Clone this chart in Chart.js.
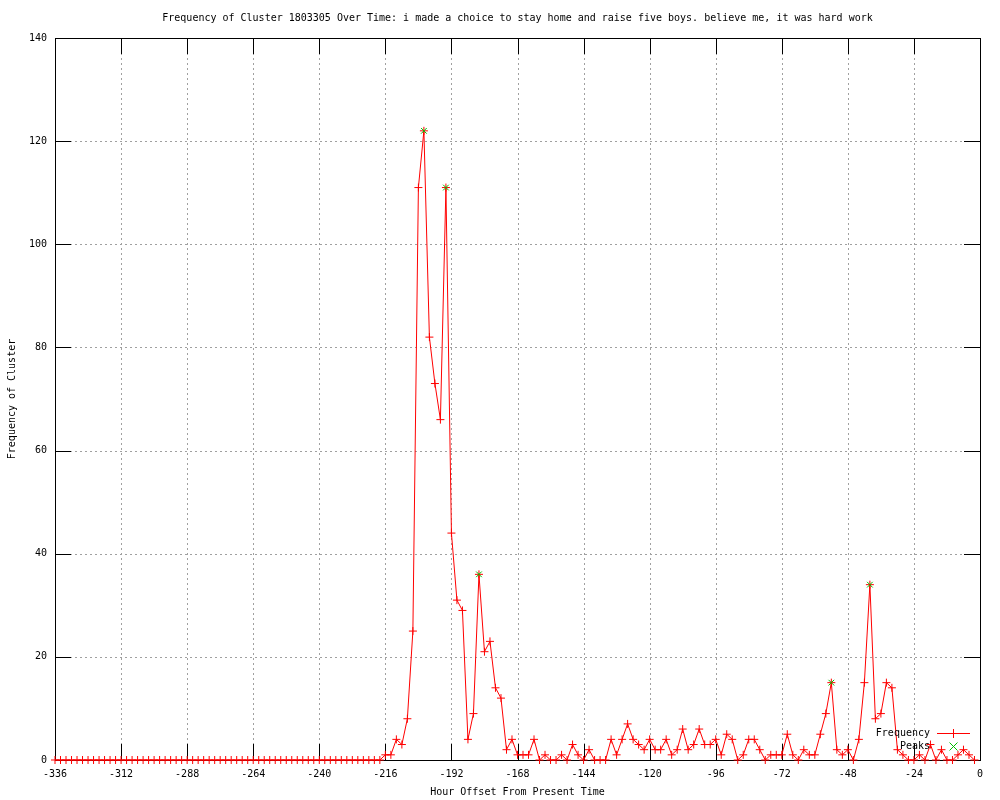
<!DOCTYPE html>
<html>
<head>
<meta charset="utf-8">
<script src="https://cdn.jsdelivr.net/npm/chart.js@4/dist/chart.umd.min.js"></script>
<style>
html,body{margin:0;padding:0;background:#fff;}
#wrap{width:1000px;height:800px;}
</style>
</head>
<body>
<div id="wrap"><canvas id="c" width="1000" height="800"></canvas></div>
<script>
const TITLE = "Frequency of Cluster 1803305 Over Time: i made a choice to stay home and raise five boys. believe me, it was hard work";
const X_TITLE = "Hour Offset From Present Time";
const Y_TITLE = "Frequency of Cluster";

const hours = [
-336,-334,-332,-330,-328,-326,-324,-322,-320,-318,-316,-314,-312,-310,-308,-306,-304,-302,-300,-298,
-296,-294,-292,-290,-288,-286,-284,-282,-280,-278,-276,-274,-272,-270,-268,-266,-264,-262,-260,-258,
-256,-254,-252,-250,-248,-246,-244,-242,-240,-238,-236,-234,-232,-230,-228,-226,-224,-222,-220,-218,
-216,-214,-212,-210,-208,-206,-204,-202,-200,-198,-196,-194,-192,-190,-188,-186,-184,-182,-180,-178,
-176,-174,-172,-170,-168,-166,-164,-162,-160,-158,-156,-154,-152,-150,-148,-146,-144,-142,-140,-138,
-136,-134,-132,-130,-128,-126,-124,-122,-120,-118,-116,-114,-112,-110,-108,-106,-104,-102,-100,-98,
-96,-94,-92,-90,-88,-86,-84,-82,-80,-78,-76,-74,-72,-70,-68,-66,-64,-62,-60,-58,
-56,-54,-52,-50,-48,-46,-44,-42,-40,-38,-36,-34,-32,-30,-28,-26,-24,-22,-20,-18,
-16,-14,-12,-10,-8,-6,-4,-2
];

const frequency = [
0,0,0,0,0,0,0,0,0,0,0,0,0,0,0,0,0,0,0,0,
0,0,0,0,0,0,0,0,0,0,0,0,0,0,0,0,0,0,0,0,
0,0,0,0,0,0,0,0,0,0,0,0,0,0,0,0,0,0,0,0,
1,1,4,3,8,25,111,122,82,73,66,111,44,31,29,4,9,36,21,23,
14,12,2,4,1,1,1,4,0,1,0,0,1,0,3,1,0,2,0,0,
0,4,1,4,7,4,3,2,4,2,2,4,1,2,6,2,3,6,3,3,
4,1,5,4,0,1,4,4,2,0,1,1,1,5,1,0,2,1,1,5,
9,15,2,1,2,0,4,15,34,8,9,15,14,2,1,0,0,1,0,3,
0,2,0,0,1,2,1,0
];

const peakHours = [-202, -194, -182, -54, -40];
const peakValues = [122, 111, 36, 15, 34];

const xTicks = [-336,-312,-288,-264,-240,-216,-192,-168,-144,-120,-96,-72,-48,-24,0];
const yTicks = [0,20,40,60,80,100,120,140];

const RED = '#ff0000';
const GREEN = '#00c000';
const FONT = '10px "DejaVu Sans Mono", "Liberation Mono", monospace';

const freqData = hours.map((h, i) => ({x: h, y: frequency[i]}));
const peakData = peakHours.map((h, i) => ({x: h, y: peakValues[i]}));

const framePlugin = {
  id: 'frame',
  beforeDatasetsDraw(chart) {
    const ctx = chart.ctx, a = chart.chartArea;
    const xs = chart.scales.x, ys = chart.scales.y;
    ctx.save();
    ctx.strokeStyle = '#a0a0a0';
    ctx.lineWidth = 1;
    ctx.setLineDash([2, 3]);
    xTicks.forEach(v => {
      if (v === xTicks[0] || v === xTicks[xTicks.length-1]) return;
      const px = Math.round(xs.getPixelForValue(v)) + 0.5;
      ctx.beginPath(); ctx.moveTo(px, a.top); ctx.lineTo(px, a.bottom); ctx.stroke();
    });
    yTicks.forEach(v => {
      if (v === yTicks[0] || v === yTicks[yTicks.length-1]) return;
      const py = Math.round(ys.getPixelForValue(v)) + 0.5;
      ctx.beginPath(); ctx.moveTo(a.left, py); ctx.lineTo(a.right, py); ctx.stroke();
    });
    ctx.setLineDash([]);
    ctx.strokeStyle = '#000';
    const TL = 16;
    xTicks.forEach(v => {
      const px = Math.round(xs.getPixelForValue(v)) + 0.5;
      ctx.beginPath(); ctx.moveTo(px, a.bottom); ctx.lineTo(px, a.bottom - TL); ctx.stroke();
      ctx.beginPath(); ctx.moveTo(px, a.top); ctx.lineTo(px, a.top + TL); ctx.stroke();
    });
    yTicks.forEach(v => {
      const py = Math.round(ys.getPixelForValue(v)) + 0.5;
      ctx.beginPath(); ctx.moveTo(a.left, py); ctx.lineTo(a.left + TL, py); ctx.stroke();
      ctx.beginPath(); ctx.moveTo(a.right, py); ctx.lineTo(a.right - TL, py); ctx.stroke();
    });
    ctx.strokeRect(Math.round(a.left) + 0.5, Math.round(a.top) + 0.5,
                   Math.round(a.right - a.left), Math.round(a.bottom - a.top));
    ctx.restore();
  },
  afterDraw(chart) {
    const ctx = chart.ctx, a = chart.chartArea;
    ctx.save();
    ctx.fillStyle = '#000';
    ctx.font = FONT;
    ctx.textBaseline = 'middle';
    ctx.textAlign = 'center';
    ctx.fillText(TITLE, (a.left + a.right) / 2, 18);
    ctx.fillText(X_TITLE, (a.left + a.right) / 2, 792);
    ctx.save();
    ctx.translate(12, (a.top + a.bottom) / 2);
    ctx.rotate(-Math.PI / 2);
    ctx.fillText(Y_TITLE, 0, 0);
    ctx.restore();
    // key
    const ds = chart.data.datasets;
    ctx.textAlign = 'right';
    const kx = 930, sx0 = 937, sx1 = 970, sm = 953;
    const rows = [733, 746];
    ctx.fillText(ds[0].label, kx, rows[0]);
    ctx.fillText(ds[1].label, kx, rows[1]);
    ctx.lineWidth = 1;
    ctx.strokeStyle = RED;
    ctx.beginPath();
    ctx.moveTo(sx0, rows[0] + 0.5); ctx.lineTo(sx1, rows[0] + 0.5);
    ctx.moveTo(sm + 0.5, rows[0] - 4); ctx.lineTo(sm + 0.5, rows[0] + 5);
    ctx.stroke();
    ctx.strokeStyle = GREEN;
    ctx.beginPath();
    ctx.moveTo(sm - 3.5, rows[1] - 3.5); ctx.lineTo(sm + 4.5, rows[1] + 4.5);
    ctx.moveTo(sm + 4.5, rows[1] - 3.5); ctx.lineTo(sm - 3.5, rows[1] + 4.5);
    ctx.stroke();
    ctx.restore();
  }
};

new Chart(document.getElementById('c'), {
  type: 'line',
  data: {
    datasets: [
      {
        label: 'Frequency',
        data: freqData,
        borderColor: RED,
        backgroundColor: RED,
        borderWidth: 1,
        pointStyle: 'cross',
        pointRadius: 4,
        pointBorderWidth: 1,
        pointBorderColor: RED,
        tension: 0,
        fill: false,
        clip: false,
        order: 2
      },
      {
        label: 'Peaks',
        data: peakData,
        showLine: false,
        borderColor: GREEN,
        backgroundColor: GREEN,
        pointStyle: 'crossRot',
        pointRadius: 4,
        pointBorderWidth: 1,
        pointBorderColor: GREEN,
        clip: false,
        order: 1
      }
    ]
  },
  options: {
    responsive: false,
    animation: false,
    devicePixelRatio: 1,
    layout: { padding: { top: 38, right: 20, left: 0, bottom: 0 } },
    plugins: {
      legend: { display: false },
      title: { display: false },
      tooltip: { enabled: false }
    },
    scales: {
      x: {
        type: 'linear',
        min: -336, max: 0,
        afterFit(s) { s.height = 40; },
        afterBuildTicks(s) { s.ticks = xTicks.map(v => ({value: v})); },
        grid: { display: false, drawTicks: false },
        border: { display: false },
        ticks: { font: { family: '"DejaVu Sans Mono", "Liberation Mono", monospace', size: 10 }, color: '#000', padding: 8, maxRotation: 0, autoSkip: false }
      },
      y: {
        type: 'linear',
        min: 0, max: 140,
        afterFit(s) { s.width = 55; },
        afterBuildTicks(s) { s.ticks = yTicks.map(v => ({value: v})); },
        grid: { display: false, drawTicks: false },
        border: { display: false },
        ticks: { font: { family: '"DejaVu Sans Mono", "Liberation Mono", monospace', size: 10 }, color: '#000', padding: 8 }
      }
    }
  },
  plugins: [framePlugin]
});
</script>
</body>
</html>
